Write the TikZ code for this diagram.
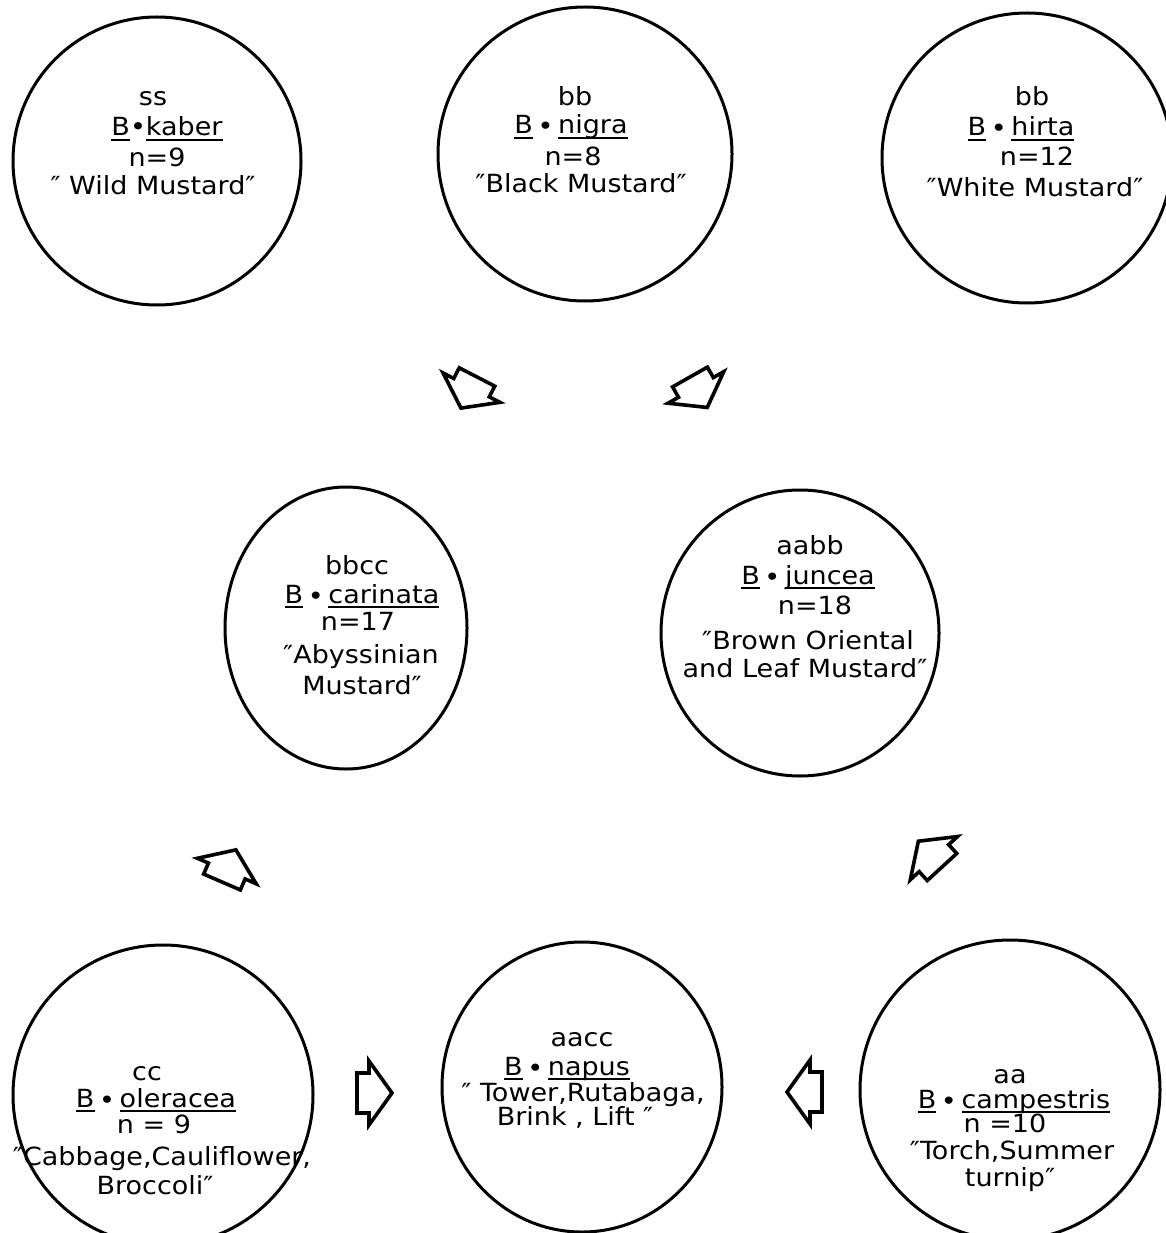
\documentclass[tikz,border=0pt]{standalone}
\usepackage{fontspec}
\setmainfont{DejaVu Sans}[FakeStretch=1.08]
\usetikzlibrary{shapes.geometric}
\newcommand\ulx[1]{\setbox0\hbox{#1}\rlap{\rule[-5pt]{\wd0}{2.2pt}}\box0}
\newcommand\bdot{\,∙\,}
\newcommand\q{″}
\newcommand\blockarr[3]{\draw[arrowline,shift={(#1,#2)},rotate=#3] (0,-20) -- (12,-20) -- (12,-32) -- (35,0) -- (12,32) -- (12,20) -- (0,20) -- cycle;}
\begin{document}
\begin{tikzpicture}[x=1pt,y=-1pt,
  ring/.style={draw, line width=3pt, circle, inner sep=0pt},
  oval/.style={draw, line width=3pt, ellipse, inner sep=0pt},
  lbl/.style={anchor=base, inner sep=0pt, font=\fontsize{25}{30}\selectfont},
  arrowline/.style={draw, line width=3.6pt, line join=miter}]
\useasboundingbox (0,0) rectangle (1165,1233);

% circles
\node[ring, minimum size=288pt] (kaber) at (157,161) {};
\node[ring, minimum size=294pt] (nigra) at (585,154) {};
\node[ring, minimum size=290pt] (hirta) at (1027,158) {};
\node[oval, minimum width=242pt, minimum height=282pt] (carinata) at (346,628) {};
\node[oval, minimum width=278pt, minimum height=286pt] (juncea) at (800,633) {};
\node[ring, minimum size=300pt] (oleracea) at (163,1095) {};
\node[oval, minimum width=280pt, minimum height=290pt] (napus) at (582,1087) {};
\node[ring, minimum size=300pt] (campestris) at (1010,1090) {};

% texts: kaber
\node[lbl] (kaber1) at (153,106) {ss};
\node[lbl] (kaber2) at (167,136) {\ulx{B}•\ulx{kaber}};
\node[lbl] (kaber3) at (157,167) {n=9};
\node[lbl] (kaber4) at (153,195) {\q\ Wild Mustard\q};
% nigra
\node[lbl] (nigra1) at (575,106) {bb};
\node[lbl] (nigra2) at (571,134) {\ulx{B}\bdot\ulx{nigra}};
\node[lbl] (nigra3) at (573,166) {n=8};
\node[lbl] (nigra4) at (581,193) {\q Black Mustard\q};
% hirta
\node[lbl] (hirta1) at (1032,106) {bb};
\node[lbl] (hirta2) at (1021,136) {\ulx{B}\bdot\ulx{hirta}};
\node[lbl] (hirta3) at (1037,166) {n=12};
\node[lbl] (hirta4) at (1035,197) {\q White Mustard\q};
% carinata
\node[lbl] (carinata1) at (357,574) {bbcc};
\node[lbl] (carinata2) at (362,603) {\ulx{B}\bdot\ulx{carinata}};
\node[lbl] (carinata3) at (358,630) {n=17};
\node[lbl] (carinata4) at (361,663) {\q Abyssinian};
\node[lbl] (carinata5) at (362,694) {Mustard\q};
% juncea
\node[lbl] (juncea1) at (810,554) {aabb};
\node[lbl] (juncea2) at (808,584) {\ulx{B}\bdot\ulx{juncea}};
\node[lbl] (juncea3) at (815,614) {n=18};
\node[lbl] (juncea4) at (808,649) {\q Brown Oriental};
\node[lbl] (juncea5) at (805,677) {and Leaf Mustard\q};
% oleracea
\node[lbl] (oleracea1) at (147,1080) {cc};
\node[lbl] (oleracea2) at (156,1107) {\ulx{B}\bdot\ulx{oleracea}};
\node[lbl] (oleracea3) at (154,1133) {n = 9};
\node[lbl] (oleracea4) at (162,1165) {\q Cabbage,Cauliflower,};
\node[lbl] (oleracea5) at (155,1194) {Broccoli\q};
% napus
\node[lbl] (napus1) at (582,1046) {aacc};
\node[lbl] (napus2) at (567,1075) {\ulx{B}\bdot\ulx{napus}};
\node[lbl] (napus3) at (583,1101) {\q\ Tower,Rutabaga,};
\node[lbl] (napus4) at (575,1125) {Brink , Lift \q};
% campestris
\node[lbl] (campestris1) at (1010,1083) {aa};
\node[lbl] (campestris2) at (1014,1108) {\ulx{B}\bdot\ulx{campestris}};
\node[lbl] (campestris3) at (1005,1132) {n =10};
\node[lbl] (campestris4) at (1012,1159) {\q Torch,Summer};
\node[lbl] (campestris5) at (1010,1186) {turnip\q};

% block arrows
\blockarr{477}{377}{-117.3}
\blockarr{690}{377}{-60.5}
\blockarr{222}{882}{66.6}
\blockarr{942}{867}{132.5}
\blockarr{357}{1093}{0}
\blockarr{822}{1092}{180}
\end{tikzpicture}
\end{document}
